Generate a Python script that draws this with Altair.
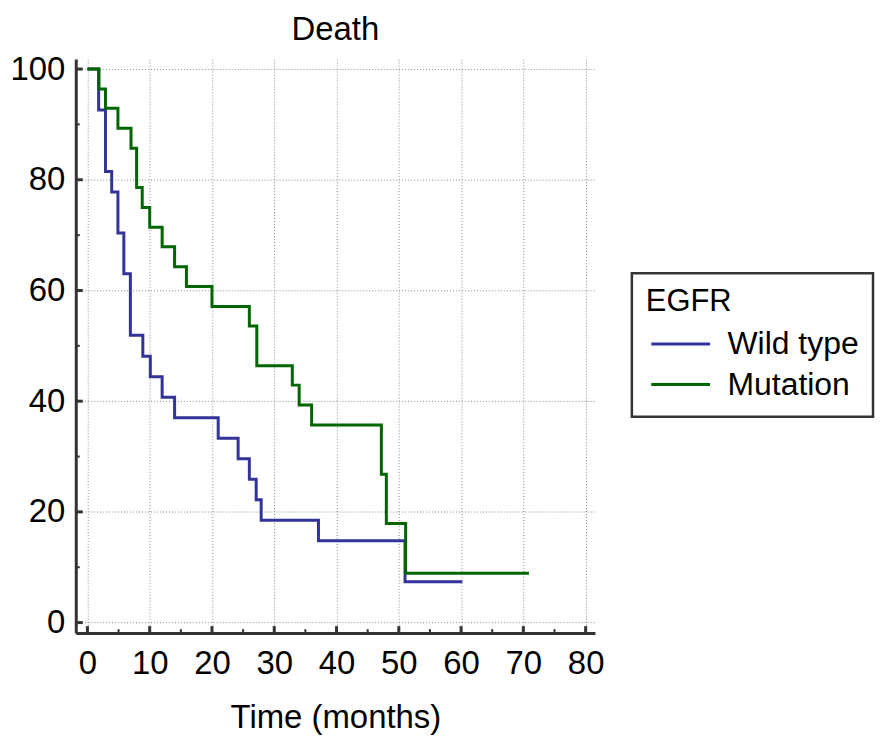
import altair as alt
import pandas as pd

# Kaplan-Meier steps (time in months, survival %)
wild_t = [0, 1.8, 2.9, 3.9, 4.9, 5.85, 6.9, 8.9, 10.1, 12.0, 14.0, 21.0, 24.2, 26.0, 27.1, 27.9, 37.1, 51.0, 60.2]
wild_s = [100, 92.6, 81.5, 77.8, 70.4, 63.0, 51.9, 48.1, 44.4, 40.7, 37.0, 33.3, 29.6, 25.9, 22.2, 18.5, 14.8, 7.4, 7.4]
mut_t = [0, 1.85, 2.9, 4.9, 7.0, 7.9, 8.8, 10.0, 12.0, 14.0, 15.9, 20.0, 26.0, 27.2, 32.9, 34.0, 36.0, 47.2, 48.0, 51.1, 70.9]
mut_s = [100, 96.4, 92.9, 89.3, 85.7, 78.6, 75.0, 71.4, 67.9, 64.3, 60.7, 57.1, 53.6, 46.4, 42.9, 39.3, 35.7, 26.8, 17.9, 8.9, 8.9]

groups = ["Wild type", "Mutation"]
colors = ["#333399", "#006600"]

x_major = [0, 10, 20, 30, 40, 50, 60, 70, 80]
x_minor = [5, 15, 25, 35, 45, 55, 65, 75]
y_major = [0, 20, 40, 60, 80, 100]
y_minor = [10, 30, 50, 70, 90]

df = pd.concat([
    pd.DataFrame({"group": groups[0], "time": wild_t, "surv": wild_s}),
    pd.DataFrame({"group": groups[1], "time": mut_t, "surv": mut_s}),
], ignore_index=True)

FONT = "Liberation Sans"
W, H = 521, 576
xs = alt.Scale(domain=[-1.87, 81.5], nice=False, zero=False)
ys = alt.Scale(domain=[-1.9, 101.8], nice=False, zero=False)
xaxis = alt.Axis(values=x_major, title="Time (months)", grid=True,
                 labelPadding=15, titlePadding=21, format="d")
yaxis = alt.Axis(values=y_major, title=None, grid=True, labelPadding=11, format="d")

lines = alt.Chart(df).mark_line(interpolate="step-after", strokeWidth=3).encode(
    x=alt.X("time:Q", scale=xs, axis=xaxis),
    y=alt.Y("surv:Q", scale=ys, axis=yaxis),
    color=alt.Color("group:N",
                    scale=alt.Scale(domain=groups, range=colors),
                    sort=groups,
                    legend=alt.Legend(title="EGFR", orient="none", legendX=558, legendY=215,
                                      symbolType="stroke", symbolSize=3481, symbolStrokeWidth=3,
                                      symbolOffset=4,
                                      clipHeight=36, rowPadding=4.6, titlePadding=8,
                                      labelOffset=16, padding=14,
                                      strokeColor="#333333", fillColor="white")),
    detail="group:N",
)

xmaj = alt.Chart(pd.DataFrame({"v": x_major})).mark_rule(color="#333333", strokeWidth=3).encode(
    x=alt.X("v:Q", scale=xs, axis=xaxis), y=alt.value(H), y2=alt.value(H - 7))
xmin = alt.Chart(pd.DataFrame({"v": x_minor})).mark_rule(color="#333333", strokeWidth=2).encode(
    x=alt.X("v:Q", scale=xs, axis=xaxis), y=alt.value(H), y2=alt.value(H - 4))
ymaj = alt.Chart(pd.DataFrame({"v": y_major})).mark_rule(color="#333333", strokeWidth=3).encode(
    y=alt.Y("v:Q", scale=ys, axis=yaxis), x=alt.value(0), x2=alt.value(7))
ymin = alt.Chart(pd.DataFrame({"v": y_minor})).mark_rule(color="#333333", strokeWidth=2).encode(
    y=alt.Y("v:Q", scale=ys, axis=yaxis), x=alt.value(0), x2=alt.value(4))

chart = alt.layer(lines, xmaj, xmin, ymaj, ymin).properties(
    width=W, height=H,
    title=alt.TitleParams("Death", fontSize=33, fontWeight="normal", font=FONT,
                          anchor="middle", baseline="bottom", offset=-27,
                          color="black"),
    padding={"left": 1, "top": 4, "right": 5, "bottom": 5},
).configure_view(stroke=None).configure_axis(
    labelFont=FONT, titleFont=FONT, labelFontSize=33, titleFontSize=33,
    titleFontWeight="normal", labelColor="black", titleColor="black",
    domainColor="#333333", domainWidth=3, ticks=False, tickSize=0,
    gridColor="#8c8c8c", gridDash=[1, 2], gridWidth=1,
).configure_legend(
    labelFont=FONT, titleFont=FONT, labelFontSize=32, titleFontSize=31,
    titleFontWeight="normal", labelColor="black", titleColor="black",
    strokeWidth=2.5,
)

chart.save("out.html", embed_options={"renderer": "svg", "actions": False})
